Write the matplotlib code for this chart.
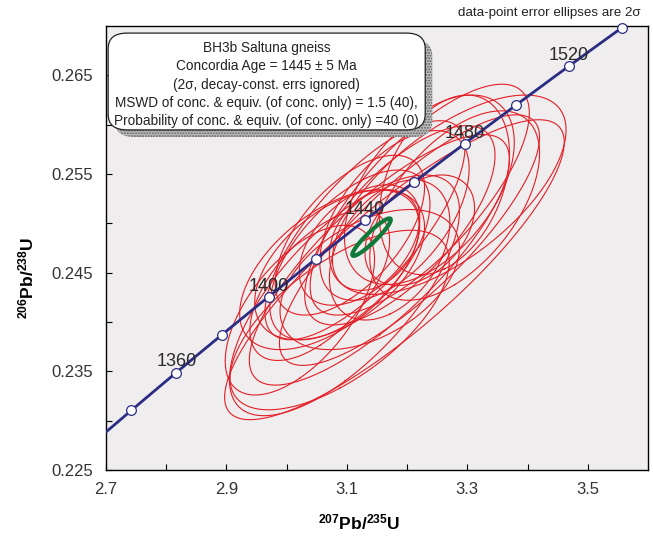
import numpy as np
import matplotlib
matplotlib.use("Agg")
import matplotlib.pyplot as plt
from matplotlib.patches import FancyBboxPatch
from matplotlib.ticker import FixedLocator, FormatStrFormatter

plt.rcParams['font.family'] = ['Liberation Sans', 'DejaVu Sans']
plt.rcParams['mathtext.fontset'] = 'custom'
plt.rcParams['mathtext.rm'] = 'Liberation Sans'
plt.rcParams['mathtext.bf'] = 'Liberation Sans:bold'

# spot analyses: 207Pb/235U, 2s, 206Pb/238U, 2s, rho
pb207_u235 = [3.179, 3.096, 3.071, 3.088, 3.105, 3.055, 3.121, 3.146, 3.171,
              3.130, 3.188, 3.221, 3.270, 3.237, 3.262, 3.279, 3.154, 3.204,
              3.022, 3.105, 3.179, 3.138, 3.088, 3.221]
err_207 = [0.282, 0.191, 0.149, 0.141, 0.133, 0.116, 0.100, 0.075, 0.100,
           0.166, 0.158, 0.182, 0.194, 0.141, 0.108, 0.141, 0.216, 0.216,
           0.124, 0.124, 0.124, 0.149, 0.182, 0.091]
pb206_u238 = [0.2453, 0.2427, 0.2453, 0.2458, 0.2468, 0.2437, 0.2478, 0.2483, 0.2473,
              0.2493, 0.2498, 0.2524, 0.2529, 0.2534, 0.2539, 0.2518, 0.2463, 0.2483,
              0.2412, 0.2488, 0.2508, 0.2443, 0.2402, 0.2493]
err_206 = [0.0152, 0.0122, 0.0081, 0.0076, 0.0086, 0.0076, 0.0061, 0.0051, 0.0071,
           0.0111, 0.0101, 0.0117, 0.0101, 0.0096, 0.0091, 0.0096, 0.0127, 0.0127,
           0.0086, 0.0081, 0.0086, 0.0071, 0.0091, 0.0056]
rho = [0.85, 0.70, 0.55, 0.50, 0.60, 0.60, 0.45, 0.30, 0.40,
       0.75, 0.70, 0.75, 0.65, 0.50, 0.35, 0.55, 0.80, 0.82,
       0.60, 0.60, 0.55, 0.45, 0.65, 0.40]

# concordia age ellipse
conc_x, conc_sx, conc_y, conc_sy, conc_rho = 3.141, 0.032, 0.2486, 0.0019, 0.93

# concordia curve
lam238 = 1.55125e-10
lam235 = 9.8485e-10
marker_ages = [1340, 1360, 1380, 1400, 1420, 1440, 1460, 1480, 1500, 1520, 1540]
label_ages = [1360, 1400, 1440, 1480, 1520]

x_ticks = [2.7, 2.9, 3.1, 3.3, 3.5]
x_minor = [2.8, 3.0, 3.2, 3.4]
y_ticks = [0.225, 0.235, 0.245, 0.255, 0.265]
y_minor = [0.230, 0.240, 0.250, 0.260]


def ellipse(x, sx, y, sy, r, n=240):
    cov = np.array([[sx * sx, r * sx * sy], [r * sx * sy, sy * sy]])
    vals, vecs = np.linalg.eigh(cov)
    t = np.linspace(0, 2 * np.pi, n)
    circ = np.vstack([np.cos(t), np.sin(t)])
    pts = vecs @ np.diag(np.sqrt(vals)) @ circ
    return x + pts[0], y + pts[1]


fig = plt.figure(figsize=(6.53, 5.37), dpi=100)
ax = fig.add_axes([0.1623, 0.1248, 0.8300, 0.8268])
ax.set_facecolor('#efeded')

for i in range(len(pb207_u235)):
    ex, ey = ellipse(pb207_u235[i], err_207[i], pb206_u238[i], err_206[i], rho[i])
    ax.plot(ex, ey, color='#e41e26', lw=0.8, zorder=2)

ages = np.linspace(1300, 1540, 400)
cx = np.exp(lam235 * ages * 1e6) - 1
cy = np.exp(lam238 * ages * 1e6) - 1
ax.plot(cx, cy, color='#2b2d84', lw=2.0, zorder=3)

ma = np.array(marker_ages) * 1e6
ax.plot(np.exp(lam235 * ma) - 1, np.exp(lam238 * ma) - 1, 'o', ms=7,
        mfc='white', mec='#2b2d84', mew=0.9, zorder=5, clip_on=False)
for a in label_ages:
    ax.annotate(str(a), (np.exp(lam235 * a * 1e6) - 1, np.exp(lam238 * a * 1e6) - 1),
                xytext=(0, 1.5), textcoords='offset points', ha='center', va='bottom',
                fontsize=13, color='#2a2a2a', zorder=6)

gx, gy = ellipse(conc_x, conc_sx, conc_y, conc_sy, conc_rho)
ax.plot(gx, gy, color='#0d7a3a', lw=3.0, zorder=4)

ax.set_xlim(2.7, 3.6)
ax.set_ylim(0.225, 0.270)
ax.xaxis.set_major_locator(FixedLocator(x_ticks))
ax.xaxis.set_minor_locator(FixedLocator(x_minor))
ax.yaxis.set_major_locator(FixedLocator(y_ticks))
ax.yaxis.set_minor_locator(FixedLocator(y_minor))
ax.xaxis.set_major_formatter(FormatStrFormatter('%.1f'))
ax.yaxis.set_major_formatter(FormatStrFormatter('%.3f'))
ax.tick_params(which='both', direction='in', length=4, width=0.8,
               labelsize=12, labelcolor='#333333', top=False, right=False)
ax.tick_params(axis='x', pad=9)
ax.tick_params(axis='y', pad=9)
for s in ax.spines.values():
    s.set_linewidth(1.0)

ax.set_xlabel(r'$\mathbf{^{207}Pb/^{235}U}$', fontsize=12.5)
ax.xaxis.set_label_coords(0.467, -0.095)
ax.set_ylabel(r'$\mathbf{^{206}Pb/^{238}U}$', fontsize=12.5)
ax.yaxis.set_label_coords(-0.128, 0.432)

# info box with shadow
shadow = FancyBboxPatch((0.017, 0.750), 0.585, 0.218, boxstyle='round,pad=0,rounding_size=0.035',
                        transform=ax.transAxes, facecolor='#c4c4c4', edgecolor='#5a5a5a',
                        hatch='......', lw=0, zorder=7)
ax.add_patch(shadow)
box = FancyBboxPatch((0.004, 0.766), 0.585, 0.218, boxstyle='round,pad=0,rounding_size=0.035',
                     transform=ax.transAxes, facecolor='white', edgecolor='#222222',
                     lw=0.9, zorder=8)
ax.add_patch(box)
lines = ['BH3b Saltuna gneiss',
         'Concordia Age = 1445 ± 5 Ma',
         '(2σ, decay-const. errs ignored)',
         'MSWD of conc. & equiv. (of conc. only) = 1.5 (40),',
         'Probability of conc. & equiv. (of conc. only) =40 (0)']
ax.text(0.2965, 0.868, '\n'.join(lines), transform=ax.transAxes, ha='center', va='center',
        fontsize=9.8, color='#222222', linespacing=1.38, zorder=9)

fig.text(0.981, 0.975, 'data-point error ellipses are 2σ', ha='right', va='center',
         fontsize=9.6, color='#222222')

fig.savefig('out.png', dpi=100)
